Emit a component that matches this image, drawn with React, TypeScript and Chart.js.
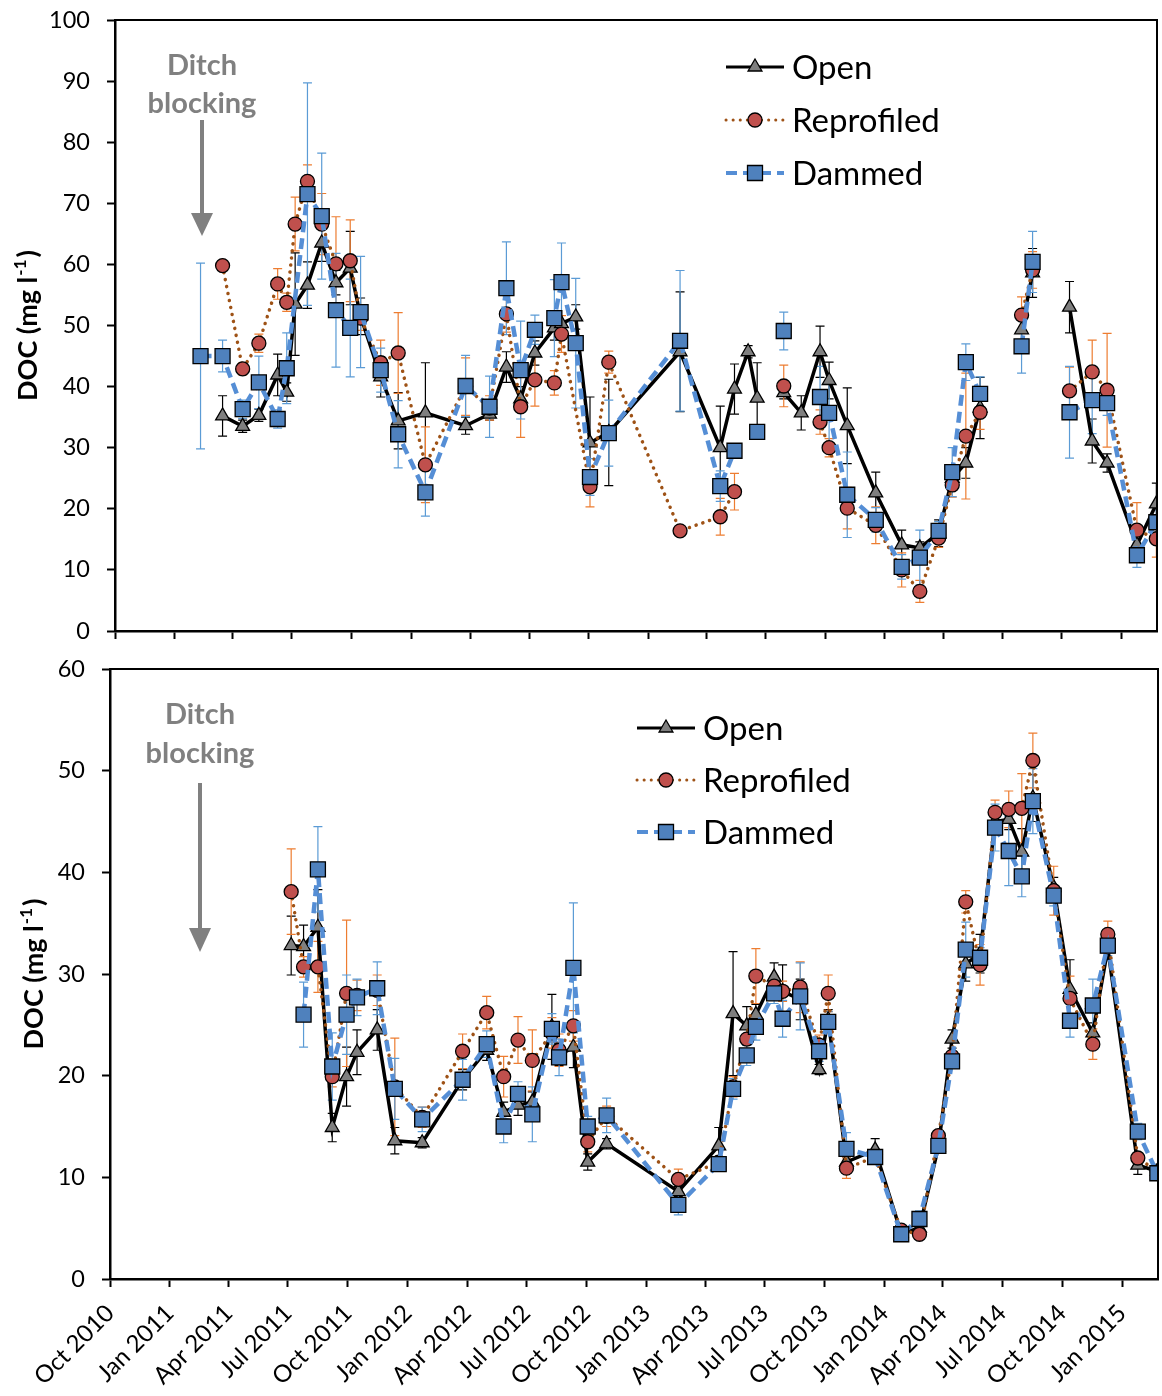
import React, { useEffect, useRef } from "react";
import { Chart, registerables } from "chart.js";

Chart.register(...registerables);

const FONT = "Lato, 'Open Sans', sans-serif";

// ---------- DATA ----------
const sampleDates = [
  "2011-02-10", "2011-03-16", "2011-04-16", "2011-05-11", "2011-06-09", "2011-06-23", "2011-07-06", "2011-07-25",
  "2011-08-16", "2011-09-07", "2011-09-29", "2011-10-15", "2011-11-15", "2011-12-12", "2012-01-23", "2012-03-25",
  "2012-05-01", "2012-05-27", "2012-06-18", "2012-07-10", "2012-08-09", "2012-08-20", "2012-09-11", "2012-10-03",
  "2012-11-01", "2013-02-19", "2013-04-22", "2013-05-14", "2013-06-04", "2013-06-18", "2013-07-16", "2013-07-29",
  "2013-08-25", "2013-09-23", "2013-10-07", "2013-11-04", "2013-12-18", "2014-01-27", "2014-02-24", "2014-03-25",
  "2014-04-15", "2014-05-06", "2014-05-28", "2014-06-20", "2014-07-11", "2014-07-31", "2014-08-17", "2014-09-18",
  "2014-10-13", "2014-11-17", "2014-12-10", "2015-01-25", "2015-02-24",
];

const xTickLabels = [
  "Oct 2010", "Jan 2011", "Apr 2011", "Jul 2011", "Oct 2011", "Jan 2012", "Apr 2012", "Jul 2012", "Oct 2012",
  "Jan 2013", "Apr 2013", "Jul 2013", "Oct 2013", "Jan 2014", "Apr 2014", "Jul 2014", "Oct 2014", "Jan 2015",
];
const xAxisStart = "2010-10-01";
const xAxisEnd = "2015-02-25";

const seriesNames = ["Open", "Reprofiled", "Dammed"];

// Top panel
const topOpen = [
  null, 35.2, 33.5, 35.3, 41.9, 39.1, 53.5, 56.6, 63.5, 57.0, 59.4, 51.5, 41.6, 34.4, 35.7, 33.6,
  35.5, 43.2, 38.0, 45.5, 49.6, 50.3, 51.4, 30.8, 32.5, 45.7, 30.0, 39.6, 45.7, 38.1, null, 39.0,
  35.7, 45.7, 41.0, 33.6, 22.6, 14.1, 13.6, 16.0, 25.0, 27.5, 36.5, null, null, 49.3, 58.6, null,
  53.0, 31.1, 27.5, 14.1, 20.8,
];
const topOpenErr = [
  null, 3.3, 1.0, 1.0, 3.4, 1.5, 8.4, 3.8, 3.0, 2.0, 6.0, 3.0, 3.3, 4.6, 8.2, 1.4,
  1.0, 2.5, 2.0, 2.0, 2.0, null, 2.0, 7.5, 8.7, 9.8, 6.8, 4.1, 1.0, 5.8, null, 1.0,
  2.8, 4.2, 3.0, 6.2, 3.4, 2.4, 1.0, 2.2, 2.0, 2.5, 5.0, null, null, 3.0, 4.0, null,
  4.2, 3.6, 1.5, 1.0, 3.4,
];
const topReprofiled = [
  null, 59.8, 42.9, 47.1, 56.8, 53.8, 66.6, 73.6, 66.6, 60.1, 60.6, 51.2, 43.9, 45.5, 27.2, 40.0,
  36.5, 51.9, 36.7, 41.1, 40.6, 48.6, null, 23.6, 44.0, 16.4, 18.7, 22.8, null, null, null, 40.1,
  null, 34.2, 30.0, 20.1, 17.3, 10.0, 6.5, 15.2, 23.9, 31.9, 35.8, null, null, 51.7, 59.1, null,
  39.3, 42.4, 39.4, 16.5, 15.1,
];
const topReprofiledErr = [
  null, null, 1.0, 1.5, 2.5, 1.5, 4.4, 2.7, 5.0, 7.7, 6.7, 2.0, 3.7, 6.6, 6.2, 4.7,
  2.0, 3.0, 5.0, 4.3, 2.0, 3.0, null, 3.3, 1.8, 0.5, 3.0, 3.0, null, null, null, 3.4,
  null, 2.0, 1.5, 3.4, 3.0, 2.8, 1.8, 1.5, 2.0, 10.3, 2.8, null, null, 3.0, 3.0, null,
  3.9, 5.2, 9.3, 4.5, 3.0,
];
const topDammed = [
  45.0, 45.0, 36.3, 40.7, 34.7, 43.0, null, 71.5, 67.9, 52.5, 49.6, 52.2, 42.7, 32.2, 22.7, 40.1,
  36.7, 56.1, 42.7, 49.3, 51.2, 57.1, 47.1, 25.2, 32.4, 47.5, 23.7, 29.5, null, 32.6, null, 49.1,
  null, 38.3, 35.7, 22.3, 18.2, 10.5, 12.0, 16.4, 26.0, 44.0, 38.8, null, null, 46.6, 60.4, null,
  35.8, 37.8, 37.3, 12.4, 17.8,
];
const topDammedErr = [
  15.2, 2.6, 1.5, 4.3, 1.5, 5.8, null, 18.2, 10.3, 9.3, 8.0, 9.1, 3.6, 5.5, 3.9, 5.0,
  5.0, 7.6, 8.0, 2.4, 6.3, 6.4, 10.6, 3.0, 5.4, 11.5, 2.5, 1.0, null, 1.0, null, 3.1,
  null, 5.0, 5.0, 7.0, 2.0, 2.0, 4.5, 1.5, 4.0, 3.0, 2.8, null, null, 4.4, 5.0, null,
  7.5, 5.5, 2.0, 2.0, 2.0,
];
// the line of each series is interrupted just before these dates
const topOpenBreaks = ["2013-07-29", "2014-07-31", "2014-10-13"];
const topReprofiledBreaks = ["2013-07-29", "2013-09-23", "2014-07-31", "2014-10-13"];
const topDammedBreaks = ["2013-06-18", "2013-07-29", "2013-09-23", "2014-07-31", "2014-10-13"];

// Bottom panel
const bottomOpen = [
  null, null, null, null, null, null, 32.8, 32.7, 34.6, 14.9, 19.9, 22.3, 24.5, 13.6, 13.4, 19.6,
  22.5, 16.4, 17.1, 17.4, 24.8, 22.0, 22.8, 11.5, 13.3, 8.6, 13.1, 26.1, 24.9, 26.0, 29.7, 28.3,
  27.5, 20.6, 25.5, 11.5, 12.7, 4.5, 5.0, 13.0, 23.6, 31.0, 32.0, 45.0, 45.2, 42.0, 47.3, 38.5,
  28.5, 24.2, 32.5, 11.2, 10.6,
];
const bottomOpenErr = [
  null, null, null, null, null, null, 2.9, 2.1, 3.7, 1.4, 2.9, 2.2, 2.0, 1.3, 0.5, 1.0,
  1.0, 1.0, 1.0, 1.0, 3.2, 1.0, 2.0, 0.8, 0.5, 0.5, 1.8, 6.1, 1.9, 1.0, 1.4, 2.6,
  2.0, 0.5, 1.0, 0.5, 1.1, 0.3, 0.3, 0.5, 0.9, 1.7, 1.9, 1.0, 1.0, 2.3, 2.3, 1.0,
  2.9, 1.0, 1.0, 0.9, 0.5,
];
const bottomReprofiled = [
  null, null, null, null, null, null, 38.1, 30.7, 30.7, 19.9, 28.1, 27.9, 28.4, 18.9, 15.9, 22.4,
  26.2, 19.9, 23.5, 21.5, 24.2, 22.5, 24.9, 13.5, 16.0, 9.8, 11.5, 18.9, 23.6, 29.8, 28.8, 28.3,
  28.7, 23.0, 28.1, 10.9, 12.0, 4.8, 4.4, 14.1, 21.9, 37.1, 30.9, 45.9, 46.2, 46.3, 51.0, 38.2,
  27.6, 23.1, 33.9, 11.9, 10.6,
];
const bottomReprofiledErr = [
  null, null, null, null, null, null, 4.2, 1.0, 2.5, 1.0, 7.2, 1.5, 1.5, 4.8, 1.0, 1.7,
  1.6, 2.0, 2.3, 3.0, 1.5, 1.6, 1.5, 1.0, 1.0, 1.0, 0.5, 1.0, 1.5, 2.7, 1.0, 1.0,
  2.5, 1.0, 1.8, 1.0, 0.5, 0.3, 0.3, 0.5, 0.5, 1.1, 2.0, 1.2, 1.8, 3.4, 2.7, 2.4,
  2.2, 1.5, 1.3, 0.5, 0.5,
];
const bottomDammed = [
  null, null, null, null, null, null, null, 26.0, 40.3, 20.9, 26.0, 27.7, 28.6, 18.7, 15.7, 19.6,
  23.1, 15.0, 18.2, 16.2, 24.6, 21.8, 30.6, 15.0, 16.1, 7.3, 11.3, 18.7, 22.0, 24.8, 28.1, 25.6,
  27.8, 22.4, 25.3, 12.8, 12.0, 4.4, 5.9, 13.1, 21.4, 32.4, 31.6, 44.4, 42.1, 39.6, 47.0, 37.7,
  25.4, 26.9, 32.8, 14.5, 10.4,
];
const bottomDammedErr = [
  null, null, null, null, null, null, null, 3.2, 4.2, 3.3, 3.9, 1.8, 2.6, 3.0, 1.2, 2.0,
  1.3, 1.6, 1.2, 2.7, 1.5, 1.8, 6.4, 1.0, 1.7, 1.0, 0.5, 1.0, 1.0, 1.3, 1.0, 1.8,
  3.3, 1.0, 1.0, 1.6, 0.5, 0.3, 0.8, 0.5, 0.5, 2.7, 1.0, 2.3, 3.4, 2.0, 3.2, 1.0,
  1.6, 2.6, 1.0, 0.8, 0.5,
];
const bottomOpenBreaks: string[] = [];
const bottomReprofiledBreaks: string[] = [];
const bottomDammedBreaks: string[] = [];

const yTitleMain = "DOC (mg l";
const yTitleSup = "-1";
const yTitleEnd = ")";
const annotationLines = ["Ditch", "blocking"];

// ---------- HELPERS ----------
const MONTHS = ["Jan", "Feb", "Mar", "Apr", "May", "Jun", "Jul", "Aug", "Sep", "Oct", "Nov", "Dec"];
const BASE = Date.UTC(2010, 9, 1);
function toDay(s: string) {
  const [y, m, d] = s.split("-").map(Number);
  return (Date.UTC(y, m - 1, d) - BASE) / 86400000;
}
function labelToDay(l: string) {
  const [m, y] = l.split(" ");
  return (Date.UTC(Number(y), MONTHS.indexOf(m), 1) - BASE) / 86400000;
}
function buildPoints(values: (number | null)[], breaks: string[]) {
  const pts: { x: number; y: number | null }[] = [];
  const breakDays = breaks.map(toDay);
  let prev: number | null = null;
  sampleDates.forEach((d, i) => {
    const v = values[i];
    if (v === null || v === undefined) return;
    const day = toDay(d);
    if (prev !== null && breakDays.some((b) => b > (prev as number) && b <= day)) {
      pts.push({ x: (prev + day) / 2, y: null });
    }
    pts.push({ x: day, y: v });
    prev = day;
  });
  return pts;
}

const STYLES = {
  Open: {
    line: "#000000", width: 3.5, dash: [] as number[], cap: "butt",
    marker: "triangle", fill: "#7F7F7F", err: "#000000",
  },
  Reprofiled: {
    line: "#9E5216", width: 3.5, dash: [0.1, 7], cap: "round",
    marker: "circle", fill: "#C0504D", err: "#ED7D31",
  },
  Dammed: {
    line: "#558ED5", width: 4.5, dash: [11, 6], cap: "butt",
    marker: "rect", fill: "#4F81BD", err: "#5B9BD5",
  },
} as any;

function drawMarker(ctx: CanvasRenderingContext2D, kind: string, x: number, y: number, fill: string) {
  ctx.save();
  ctx.fillStyle = fill;
  ctx.strokeStyle = "#000";
  ctx.lineWidth = 1.3;
  ctx.setLineDash([]);
  ctx.beginPath();
  if (kind === "triangle") {
    const r = 8;
    ctx.moveTo(x, y - r);
    ctx.lineTo(x + r * Math.sin(Math.PI / 3), y + r / 2);
    ctx.lineTo(x - r * Math.sin(Math.PI / 3), y + r / 2);
    ctx.closePath();
  } else if (kind === "circle") {
    ctx.arc(x, y, 7, 0, Math.PI * 2);
  } else {
    ctx.rect(x - 7.5, y - 7.5, 15, 15);
  }
  ctx.fill();
  ctx.stroke();
  ctx.restore();
}

const errorBarPlugin = {
  id: "errorBarsDraw",
  beforeDatasetsDraw(chart: any) {
    const { ctx, chartArea, scales } = chart;
    const xs = scales.x;
    const ys = scales.y;
    ctx.save();
    ctx.beginPath();
    ctx.rect(chartArea.left, chartArea.top, chartArea.right - chartArea.left, chartArea.bottom - chartArea.top);
    ctx.clip();
    chart.data.datasets.forEach((ds: any) => {
      const eb = ds.errorBars;
      if (!eb) return;
      ctx.strokeStyle = eb.color;
      ctx.lineWidth = 1.2;
      sampleDates.forEach((d, i) => {
        const v = eb.values[i];
        const e = eb.errors[i];
        if (v === null || e === null || v === undefined || e === undefined) return;
        const px = xs.getPixelForValue(toDay(d));
        const y1 = ys.getPixelForValue(v + e);
        const y2 = ys.getPixelForValue(v - e);
        ctx.beginPath();
        ctx.moveTo(px, y1);
        ctx.lineTo(px, y2);
        ctx.moveTo(px - 4.5, y1);
        ctx.lineTo(px + 4.5, y1);
        ctx.moveTo(px - 4.5, y2);
        ctx.lineTo(px + 4.5, y2);
        ctx.stroke();
      });
    });
    ctx.restore();
  },
};

const decorPlugin = {
  id: "decor",
  afterDraw(chart: any, _args: any, opts: any) {
    const { ctx, chartArea } = chart;
    ctx.save();
    // frame
    ctx.strokeStyle = "#000";
    ctx.lineWidth = 2;
    ctx.beginPath();
    ctx.moveTo(chartArea.left, chartArea.top);
    ctx.lineTo(chartArea.right, chartArea.top);
    ctx.lineTo(chartArea.right, chartArea.bottom);
    ctx.stroke();

    // y title
    ctx.save();
    ctx.translate(opts.titleX, (chartArea.top + chartArea.bottom) / 2);
    ctx.rotate(-Math.PI / 2);
    ctx.fillStyle = "#000";
    ctx.textBaseline = "alphabetic";
    ctx.textAlign = "left";
    ctx.font = `bold 27px ${FONT}`;
    const w1 = ctx.measureText(yTitleMain).width;
    const w3 = ctx.measureText(yTitleEnd).width;
    ctx.font = `bold 17px ${FONT}`;
    const w2 = ctx.measureText(yTitleSup).width;
    let x0 = -(w1 + w2 + w3 + 3) / 2;
    ctx.font = `bold 27px ${FONT}`;
    ctx.fillText(yTitleMain, x0, 10);
    x0 += w1;
    ctx.font = `bold 17px ${FONT}`;
    ctx.fillText(yTitleSup, x0 + 1, -1);
    x0 += w2 + 3;
    ctx.font = `bold 27px ${FONT}`;
    ctx.fillText(yTitleEnd, x0, 10);
    ctx.restore();

    // annotation
    ctx.fillStyle = "#808080";
    ctx.font = `bold 29px ${FONT}`;
    ctx.textAlign = "center";
    ctx.textBaseline = "middle";
    annotationLines.forEach((t, i) => ctx.fillText(t, opts.noteX, opts.noteY[i]));
    ctx.strokeStyle = "#808080";
    ctx.fillStyle = "#808080";
    ctx.lineWidth = 4;
    ctx.beginPath();
    ctx.moveTo(opts.noteX, opts.arrow[0]);
    ctx.lineTo(opts.noteX, opts.arrow[1]);
    ctx.stroke();
    ctx.beginPath();
    ctx.moveTo(opts.noteX - 11, opts.arrow[1]);
    ctx.lineTo(opts.noteX + 11, opts.arrow[1]);
    ctx.lineTo(opts.noteX, opts.arrow[2]);
    ctx.closePath();
    ctx.fill();

    // legend
    seriesNames.forEach((name, k) => {
      const st = STYLES[name];
      const y = opts.legendY[k];
      const lx = opts.legendX;
      ctx.save();
      ctx.strokeStyle = st.line;
      ctx.lineWidth = name === "Dammed" ? 4 : 3;
      ctx.lineCap = st.cap;
      ctx.setLineDash(st.dash);
      ctx.beginPath();
      ctx.moveTo(lx, y);
      ctx.lineTo(lx + 58, y);
      ctx.stroke();
      ctx.restore();
      drawMarker(ctx, st.marker, lx + 29, y, st.fill);
      ctx.fillStyle = "#000";
      ctx.font = `33px ${FONT}`;
      ctx.textAlign = "left";
      ctx.textBaseline = "middle";
      ctx.fillText(name, lx + 66, y + 1);
    });
    ctx.restore();
  },
};

function makeDatasets(values: any[], errors: any[], breaks: any[]) {
  return seriesNames.map((name, i) => {
    const st = STYLES[name];
    return {
      label: name,
      data: buildPoints(values[i], breaks[i]),
      borderColor: st.line,
      borderWidth: st.width,
      borderDash: st.dash,
      borderCapStyle: st.cap,
      pointStyle: st.marker,
      pointRadius: st.marker === "rect" ? 10.6 : st.marker === "circle" ? 7 : 8,
      pointBackgroundColor: st.fill,
      pointBorderColor: "#000",
      pointBorderWidth: 1.3,
      tension: 0,
      spanGaps: false,
      order: 2 - i,
      errorBars: { values: values[i], errors: errors[i], color: st.err },
    };
  });
}

function makeConfig(p: any) {
  return {
    type: "line",
    data: { datasets: makeDatasets(p.values, p.errors, p.breaks) },
    options: {
      responsive: false,
      animation: false,
      devicePixelRatio: 1,
      layout: { autoPadding: false, padding: { top: p.padTop, right: p.padRight, left: 0, bottom: 0 } },
      plugins: {
        legend: { display: false },
        tooltip: { enabled: false },
        decor: p.decor,
      },
      scales: {
        x: {
          type: "linear",
          min: toDay(xAxisStart),
          max: toDay(xAxisEnd),
          afterBuildTicks: (s: any) => {
            s.ticks = xTickLabels.map((l) => ({ value: labelToDay(l) }));
          },
          afterFit: (s: any) => {
            s.height = p.xHeight;
            s.paddingLeft = 0;
            s.paddingRight = 0;
            s.paddingTop = 0;
            s.paddingBottom = 0;
          },
          ticks: {
            display: p.showX,
            autoSkip: false,
            minRotation: 45,
            maxRotation: 45,
            padding: 12,
            color: "#000",
            font: { family: FONT, size: 24 },
            callback: (_v: any, i: number) => xTickLabels[i],
          },
          grid: { drawOnChartArea: false, drawTicks: true, tickLength: 8, tickColor: "#000", tickWidth: 2, color: "#000" },
          border: { display: true, color: "#000", width: 2.5 },
        },
        y: {
          min: 0,
          max: p.yMax,
          afterFit: (s: any) => {
            s.width = p.yWidth;
            s.paddingLeft = 0;
            s.paddingRight = 0;
            s.paddingTop = 0;
            s.paddingBottom = 0;
          },
          ticks: {
            stepSize: p.yStep,
            padding: 17,
            color: "#000",
            font: { family: FONT, size: 23.5 },
          },
          grid: { drawOnChartArea: false, drawTicks: true, tickLength: 8, tickColor: "#000", tickWidth: 2, color: "#000" },
          border: { display: true, color: "#000", width: 2.5 },
        },
      },
    },
    plugins: [errorBarPlugin, decorPlugin],
  } as any;
}

const topParams = {
  values: [topOpen, topReprofiled, topDammed],
  errors: [topOpenErr, topReprofiledErr, topDammedErr],
  breaks: [topOpenBreaks, topReprofiledBreaks, topDammedBreaks],
  padTop: 20, padRight: 5, xHeight: 19, yWidth: 115, yMax: 100, yStep: 10, showX: false,
  decor: { titleX: 27, noteX: 202, noteY: [66, 104], arrow: [120, 213, 236], legendX: 726, legendY: [67, 120, 173] },
};
const bottomParams = {
  values: [bottomOpen, bottomReprofiled, bottomDammed],
  errors: [bottomOpenErr, bottomReprofiledErr, bottomDammedErr],
  breaks: [bottomOpenBreaks, bottomReprofiledBreaks, bottomDammedBreaks],
  padTop: 19, padRight: 4, xHeight: 117, yWidth: 110, yMax: 60, yStep: 10, showX: true,
  decor: { titleX: 33, noteX: 200, noteY: [65, 104], arrow: [133, 278, 302], legendX: 637, legendY: [78, 130, 182] },
};

function Panel({ params, top, height }: any) {
  const ref = useRef<HTMLCanvasElement | null>(null);
  useEffect(() => {
    if (!ref.current) return;
    const chart = new Chart(ref.current, makeConfig(params));
    return () => chart.destroy();
  }, []);
  return (
    <canvas
      ref={ref}
      width={1162}
      height={height}
      style={{ position: "absolute", left: 0, top, width: 1162, height, display: "block" }}
    />
  );
}

export default function App() {
  return (
    <div style={{ position: "absolute", left: 0, top: 0, width: 1162, height: 1396, background: "#fff", overflow: "hidden" }}>
      <Panel params={topParams} top={0} height={650} />
      <Panel params={bottomParams} top={650} height={746} />
    </div>
  );
}
